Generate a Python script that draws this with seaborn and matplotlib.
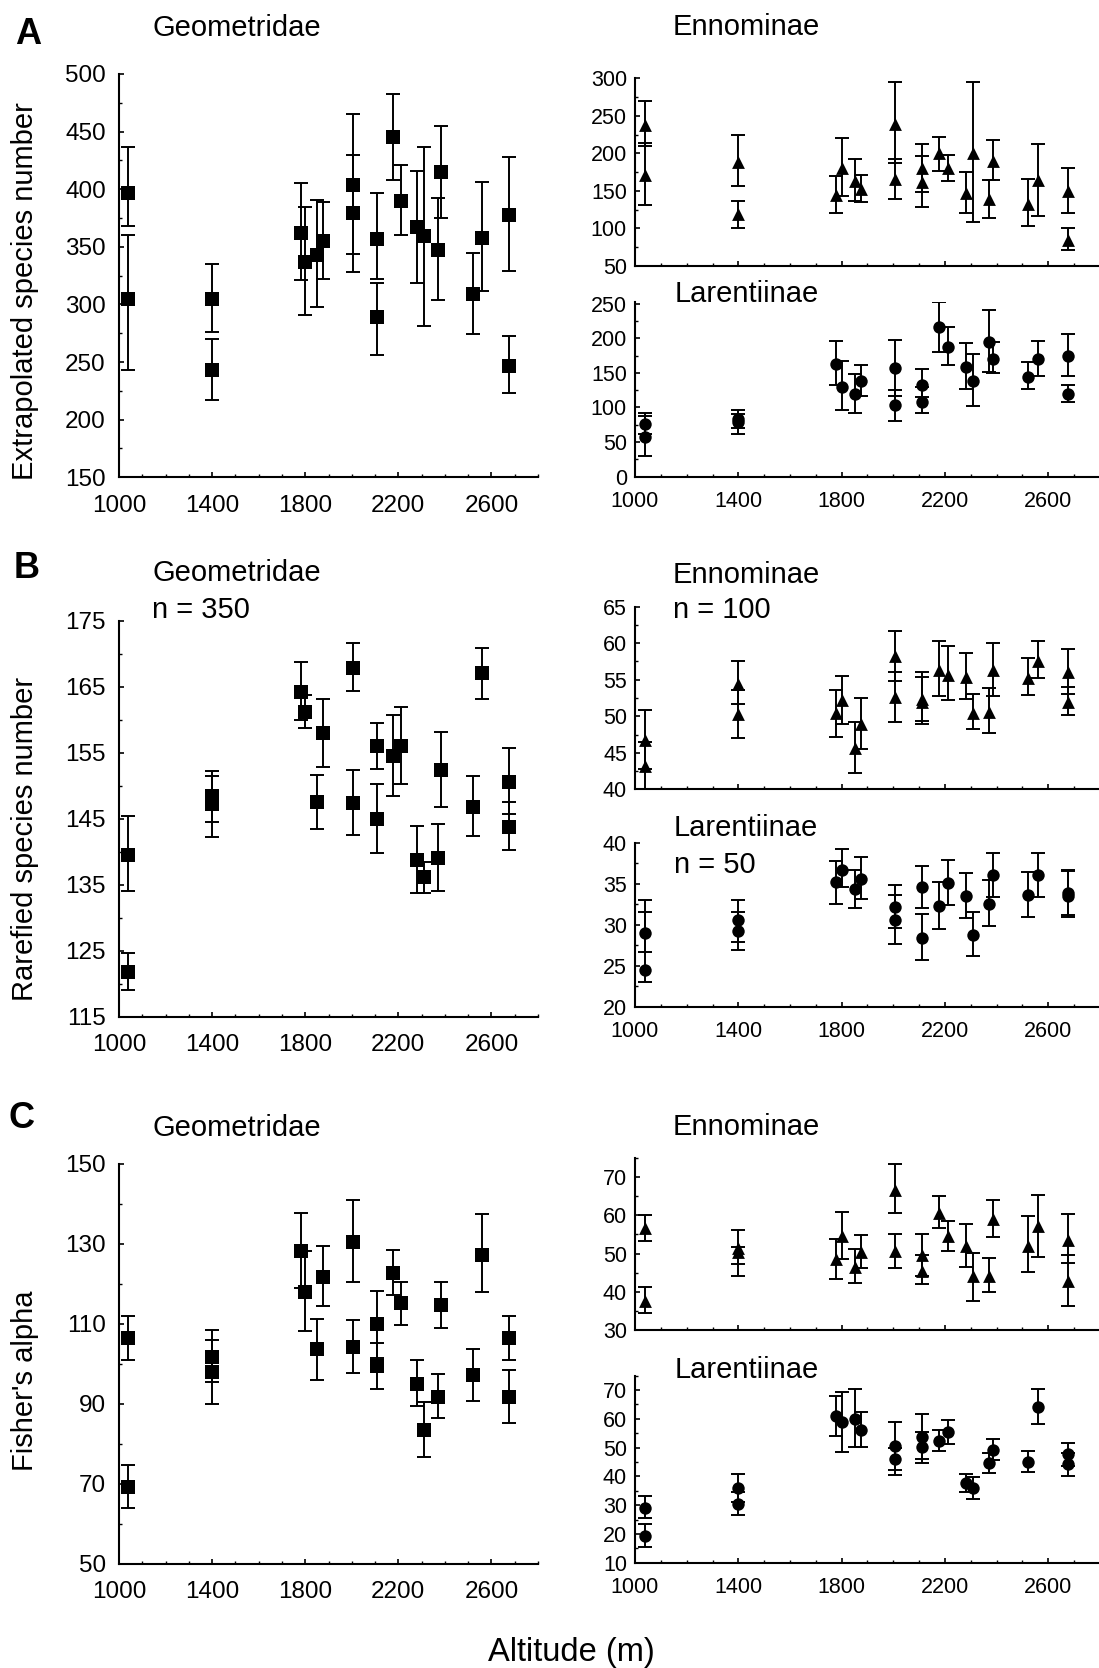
import numpy as np
import matplotlib.pyplot as plt
import matplotlib.ticker as mticker
import seaborn as sns

# sampling sites (m), some altitudes have two plots
altitude = [1040, 1040, 1400, 1400, 1780, 1800, 1850, 1875, 2005, 2005, 2110, 2110,
            2175, 2210, 2280, 2310, 2370, 2385, 2520, 2560, 2675, 2675]
alt_ticks = [1000, 1400, 1800, 2200, 2600]

# A - extrapolated species number
extra_geo = [397, 305, 305, 243, 362, 337, 343, 355, 404, 379, 357, 289, 445, 390, 367, 359, 347, 415, 309, 358, 378, 247]
extra_geo_lo = [368, 243, 276, 217, 321, 291, 298, 322, 344, 328, 322, 256, 408, 360, 319, 281, 304, 375, 274, 312, 329, 223]
extra_geo_hi = [437, 360, 335, 270, 405, 385, 391, 389, 465, 430, 397, 319, 483, 421, 416, 437, 392, 455, 345, 406, 428, 273]

extra_enn = [238, 171, 189, 119.5, 145, 181, 163, 153, 239, 166, 180, 162, 200, 181, 147, 201, 139, 190, 133, 164, 150, 85]
extra_enn_lo = [210, 131, 156, 100, 121, 143, 136, 135, 187, 139, 148, 128, 177, 163, 121, 109, 114, 164, 103, 117, 121, 71]
extra_enn_hi = [270, 214, 225, 136, 170, 221, 192, 171, 295, 192, 213, 196, 222, 198, 175, 295, 164, 218, 166, 213, 181, 101]

extra_lar = [76, 58, 83, 79, 163, 130, 120, 139, 157, 103, 133, 108, 216, 187, 158, 139, 195, 170, 144, 170, 175, 120]
extra_lar_lo = [62, 30, 71, 62, 133, 96, 92, 117, 116, 81, 115, 92, 180, 162, 127, 102, 151, 150, 127, 146, 146, 108]
extra_lar_hi = [92, 87, 96, 91, 196, 167, 149, 162, 197, 126, 155, 129, 252, 216, 193, 178, 241, 195, 166, 196, 206, 133]

# B - rarefied species number
rare_geo = [139.5, 121.7, 148.5, 147.2, 164.2, 161.2, 147.6, 158, 167.8, 147.4, 156, 144.9, 154.5, 156, 138.7, 136.1, 139, 152.4, 146.8, 167.1, 150.6, 143.7]
rare_geo_lo = [134, 119, 144.5, 142.3, 160, 158.8, 143.5, 152.9, 164.3, 142.5, 152.5, 139.8, 148.4, 150.3, 133.8, 133.8, 134.1, 146.7, 142.4, 163.2, 145.7, 140.3]
rare_geo_hi = [145.4, 124.6, 152.2, 151.5, 168.7, 163.7, 151.6, 163.2, 171.6, 152.4, 159.5, 150.3, 160.7, 162, 143.9, 138.5, 144.2, 158.2, 151.5, 170.8, 155.7, 147.6]

rare_enn = [46.8, 43.2, 54.4, 50.3, 50.4, 52.2, 45.6, 48.9, 58.2, 52.7, 52.3, 52.0, 56.4, 55.7, 55.4, 50.5, 50.6, 56.3, 55.3, 57.6, 56, 51.9]
rare_enn_lo = [42.8, 40, 51.7, 47, 47.1, 49, 42.3, 45.5, 54.8, 49.2, 48.9, 49.3, 52.8, 52.2, 52.4, 48.2, 47.7, 52.8, 52.9, 55.2, 53, 50.2]
rare_enn_hi = [50.8, 46.5, 57.6, 53.6, 53.6, 55.5, 49.2, 52.5, 61.7, 56.1, 56.1, 55.4, 60.3, 59.6, 58.6, 53.1, 53.9, 60, 58, 60.3, 59.2, 54]

rare_lar = [29, 24.5, 30.6, 29.2, 35.2, 36.7, 34.3, 35.6, 32.2, 30.6, 34.6, 28.4, 32.3, 35.1, 33.5, 28.7, 32.5, 36, 33.6, 36, 33.9, 33.5]
rare_lar_lo = [26.7, 23, 27.9, 26.9, 32.5, 34.6, 32, 33.1, 29.6, 27.7, 32, 25.7, 29.5, 32.4, 30.8, 26.2, 29.8, 33.4, 30.9, 33.4, 31.2, 30.9]
rare_lar_hi = [33, 31.6, 33, 31.6, 37.8, 39.2, 36.7, 38.2, 34.8, 33.6, 37.2, 31.3, 35.2, 37.9, 36.3, 31.5, 35.4, 38.8, 36.4, 38.8, 36.7, 36.5]

# C - Fisher's alpha
alpha_geo = [106.4, 69.3, 101.8, 97.9, 128.2, 118.1, 103.7, 121.8, 130.6, 104.3, 109.9, 99.5, 122.8, 115.2, 95, 83.5, 91.7, 114.7, 97.2, 127.3, 106.4, 91.7]
alpha_geo_lo = [101.1, 64, 95.4, 90.1, 119.1, 108.3, 96.1, 114.5, 120.4, 97.7, 101.5, 93.8, 117.2, 109.8, 89.4, 76.8, 86.5, 109, 90.8, 117.9, 101.1, 85.3]
alpha_geo_hi = [111.9, 74.8, 108.4, 106.1, 137.8, 128.3, 111.3, 129.6, 141, 111, 118.3, 105.2, 128.4, 120.6, 100.9, 90.4, 97.4, 120.6, 103.7, 137.4, 111.9, 98.6]

alpha_enn = [56.8, 37.7, 51.5, 50.4, 48.5, 54.6, 46.5, 50.3, 66.7, 50.7, 49.6, 45.5, 60.7, 54.5, 52, 44, 44.1, 59.1, 52.1, 57.2, 53.6, 42.7]
alpha_enn_lo = [53.3, 34.5, 47.3, 44.2, 43.4, 48.7, 42.2, 46.3, 60.6, 46.3, 44.2, 42, 56.6, 50.7, 46.5, 37.7, 39.9, 54.3, 45.1, 49.2, 47.6, 36.3]
alpha_enn_hi = [60.1, 41.2, 56.2, 51.8, 53.7, 61, 51.1, 54.9, 73.5, 55.2, 55.2, 49.5, 65.1, 58.4, 57.8, 50.1, 48.8, 64.1, 59.9, 65.2, 60.3, 49.5]

alpha_lar = [29.1, 19.4, 35.8, 30.4, 61, 59, 59.9, 56.1, 50.5, 46, 53.8, 50.1, 52.4, 55.3, 37.8, 36.1, 44.7, 49.2, 45.1, 64.2, 44.3, 47.7]
alpha_lar_lo = [25.4, 15.6, 31, 26.6, 54, 48.6, 50.1, 50.1, 42.2, 40.5, 45.9, 44.7, 48.8, 51.1, 34.4, 32.3, 41, 45.7, 41.6, 58.2, 40.2, 43.6]
alpha_lar_hi = [33.2, 23.6, 40.7, 34.5, 68, 69.4, 70.2, 62.5, 58.8, 50, 61.7, 55.5, 56.1, 59.6, 40.7, 39.9, 48.2, 52.9, 48.9, 70.3, 48, 51.5]

sns.set_theme(style="ticks")
plt.rcParams["font.family"] = ["Liberation Sans", "DejaVu Sans"]

W, H = 1099, 1668
fig = plt.figure(figsize=(W / 100, H / 100), dpi=100)


def px_axes(x0, x1, y_top, y_bot):
    # position in pixels of the reference image -> figure fraction
    return fig.add_axes([x0 / W, 1 - y_bot / H, (x1 - x0) / W, (y_bot - y_top) / H])


def label(x, y, s, **kw):
    fig.text(x / W, 1 - y / H, s, va="baseline", ha="left", color="black", **kw)


def panel(ax, mean, lo, hi, marker, size, ylim, yticks, yminor, left_side, xlabels=True):
    mean, lo, hi = np.array(mean), np.array(lo), np.array(hi)
    ax.errorbar(altitude, mean, yerr=[mean - lo, hi - mean], fmt="none", ecolor="black",
                elinewidth=1.4, capsize=4.7, capthick=1.4, zorder=2)
    sns.scatterplot(x=altitude, y=mean, marker=marker, s=size, color="black",
                    linewidth=0, ax=ax, zorder=3, legend=False)
    ax.set_xlim(1000, 2800)
    ax.set_ylim(*ylim)
    ax.set_xticks(alt_ticks)
    ax.xaxis.set_minor_locator(mticker.FixedLocator(range(1000, 2801, 100)))
    ax.set_yticks(yticks)
    ax.yaxis.set_minor_locator(mticker.FixedLocator(yminor))
    fs = 17.5 if left_side else 15.5
    ypad = 9.5 if left_side else 5.8
    xpad = 12.5 if left_side else 10
    ax.tick_params(axis="y", which="major", direction="in", length=3.5, width=1.2,
                   labelsize=fs, pad=ypad, colors="black")
    ax.tick_params(axis="x", which="major", direction="in", length=3.5, width=1.2,
                   labelsize=fs, pad=xpad, colors="black")
    ax.tick_params(which="minor", direction="in", length=2.5, width=1.0, colors="black")
    if not xlabels:
        ax.tick_params(axis="x", labelbottom=False)
    sns.despine(ax=ax)
    for sp in ("left", "bottom"):
        ax.spines[sp].set_linewidth(1.5)
        ax.spines[sp].set_color("black")
    ax.set_xlabel("")
    ax.set_ylabel("")
    ax.set_facecolor("white")


LX0, LX1 = 119, 538
RX0, RX1 = 635, 1100
SQ, TR, CI = 100, 85, 80

# row A
ax = px_axes(LX0, LX1, 74, 477.3)
panel(ax, extra_geo, extra_geo_lo, extra_geo_hi, "s", SQ, (150, 500),
      np.arange(150, 501, 50), np.arange(150, 501, 25), True)
ax = px_axes(RX0, RX1, 78.3, 266)
panel(ax, extra_enn, extra_enn_lo, extra_enn_hi, "^", TR, (50, 300),
      np.arange(50, 301, 50), np.arange(50, 301, 25), False, xlabels=False)
ax = px_axes(RX0, RX1, 302.3, 476.7)
panel(ax, extra_lar, extra_lar_lo, extra_lar_hi, "o", CI, (0, 252),
      np.arange(0, 251, 50), np.arange(0, 251, 25), False)

# row B
ax = px_axes(LX0, LX1, 620.7, 1016.7)
panel(ax, rare_geo, rare_geo_lo, rare_geo_hi, "s", SQ, (115, 175),
      np.arange(115, 176, 10), np.arange(115, 176, 5), True)
ax = px_axes(RX0, RX1, 606.7, 789.3)
panel(ax, rare_enn, rare_enn_lo, rare_enn_hi, "^", TR, (40, 65),
      np.arange(40, 66, 5), np.arange(40, 66, 2.5), False, xlabels=False)
ax = px_axes(RX0, RX1, 842.7, 1006.7)
panel(ax, rare_lar, rare_lar_lo, rare_lar_hi, "o", CI, (20, 40),
      np.arange(20, 41, 5), np.arange(20, 41, 2.5), False)

# row C
ax = px_axes(LX0, LX1, 1164, 1564)
panel(ax, alpha_geo, alpha_geo_lo, alpha_geo_hi, "s", SQ, (50, 150),
      np.arange(50, 151, 20), np.arange(50, 151, 10), True)
ax = px_axes(RX0, RX1, 1158, 1330)
panel(ax, alpha_enn, alpha_enn_lo, alpha_enn_hi, "^", TR, (30, 75),
      np.arange(30, 71, 10), np.arange(30, 76, 5), False, xlabels=False)
ax = px_axes(RX0, RX1, 1375.6, 1562.7)
panel(ax, alpha_lar, alpha_lar_lo, alpha_lar_hi, "o", CI, (10, 75),
      np.arange(10, 71, 10), np.arange(10, 76, 5), False)

# panel letters and group titles
tfs = 21
for x, y, s in [(15, 43.5, "A"), (14, 578.5, "B"), (9, 1128.5, "C")]:
    label(x, y, s, fontsize=26, fontweight="bold")
for x, y, s in [(152, 36, "Geometridae"), (672.5, 35, "Ennominae"), (675, 302, "Larentiinae"),
                (152, 580.7, "Geometridae"), (152, 618.3, "n = 350"),
                (673, 583.3, "Ennominae"), (673, 618.3, "n = 100"),
                (674, 836, "Larentiinae"), (674, 872.7, "n = 50"),
                (152, 1136, "Geometridae"), (672.5, 1135, "Ennominae"), (675, 1378.3, "Larentiinae")]:
    label(x, y, s, fontsize=tfs)

# y-axis titles
for y, s in [(291, "Extrapolated species number"), (838.5, "Rarefied species number"),
             (1381, "Fisher's alpha")]:
    fig.text(25.3 / W, 1 - y / H, s, rotation=90, ha="center", va="center",
             fontsize=21, color="black")

fig.text(571 / W, 1 - 1661 / H, "Altitude (m)", ha="center", va="baseline",
         fontsize=23.5, color="black")

fig.savefig("out.png", dpi=100, facecolor="white")
